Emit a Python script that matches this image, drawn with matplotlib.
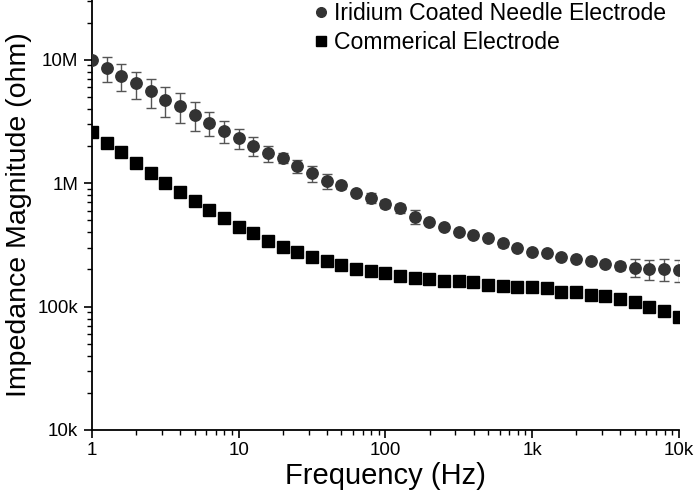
import numpy as np
import matplotlib
matplotlib.use("Agg")
import matplotlib.pyplot as plt
from matplotlib.ticker import FixedLocator, LogLocator, NullFormatter

plt.rcParams['font.family'] = ['Liberation Sans', 'DejaVu Sans']

# frequencies: 10 points per decade, 1 Hz .. 10 kHz
freq = [1, 1.259, 1.585, 1.995, 2.512, 3.162, 3.981, 5.012, 6.310, 7.943,
        10, 12.59, 15.85, 19.95, 25.12, 31.62, 39.81, 50.12, 63.10, 79.43,
        100, 125.9, 158.5, 199.5, 251.2, 316.2, 398.1, 501.2, 631.0, 794.3,
        1000, 1259, 1585, 1995, 2512, 3162, 3981, 5012, 6310, 7943, 10000]

# Iridium coated needle electrode (ohm)
iridium = [10.0e6, 8.57e6, 7.41e6, 6.43e6, 5.54e6, 4.74e6, 4.21e6, 3.58e6, 3.10e6, 2.64e6,
           2.32e6, 2.01e6, 1.74e6, 1.60e6, 1.38e6, 1.20e6, 1.04e6, 0.958e6, 0.840e6, 0.760e6,
           0.680e6, 0.627e6, 0.536e6, 0.489e6, 0.445e6, 0.405e6, 0.381e6, 0.362e6, 0.326e6, 0.297e6,
           0.276e6, 0.270e6, 0.251e6, 0.242e6, 0.235e6, 0.223e6, 0.213e6, 0.207e6, 0.202e6, 0.201e6,
           0.198e6]
iridium_err = [0.0, 2.0e6, 1.8e6, 1.6e6, 1.5e6, 1.3e6, 1.15e6, 0.95e6, 0.7e6, 0.53e6,
               0.44e6, 0.36e6, 0.26e6, 0.15e6, 0.17e6, 0.17e6, 0.14e6, 0.06e6, 0.02e6, 0.07e6,
               0.045e6, 0.055e6, 0.065e6, 0.01e6, 0.01e6, 0.01e6, 0.01e6, 0.01e6, 0.02e6, 0.01e6,
               0.01e6, 0.01e6, 0.01e6, 0.01e6, 0.01e6, 0.01e6, 0.015e6, 0.034e6, 0.037e6, 0.04e6,
               0.04e6]

# commercial electrode (ohm)
commercial = [2.61e6, 2.11e6, 1.79e6, 1.45e6, 1.21e6, 1.00e6, 0.845e6, 0.714e6, 0.604e6, 0.520e6,
              0.445e6, 0.392e6, 0.343e6, 0.306e6, 0.277e6, 0.254e6, 0.236e6, 0.217e6, 0.202e6, 0.194e6,
              0.186e6, 0.177e6, 0.170e6, 0.167e6, 0.162e6, 0.160e6, 0.157e6, 0.150e6, 0.147e6, 0.145e6,
              0.144e6, 0.141e6, 0.132e6, 0.131e6, 0.124e6, 0.121e6, 0.115e6, 0.109e6, 0.100e6, 0.0923e6,
              0.082e6]

xticks = [1, 10, 100, 1000, 10000]
xticklabels = ["1", "10", "100", "1k", "10k"]
yticks = [1e4, 1e5, 1e6, 1e7]
yticklabels = ["10k", "100k", "1M", "10M"]

fig = plt.figure(figsize=(6.94, 4.99), dpi=100)
ax = fig.add_axes([0.1326, 0.1383, 0.8454, 0.8617])

ax.errorbar(freq, iridium, yerr=iridium_err, fmt='none', ecolor='#555555',
            elinewidth=1, capsize=3.6, capthick=1, zorder=2)
ax.plot(freq, iridium, 'o', color='#333333', markersize=8.2,
        label='Iridium Coated Needle Electrode', zorder=3)
ax.plot(freq, commercial, 's', color='black', markersize=8.0,
        label='Commerical Electrode', zorder=3)

ax.set_xscale('log')
ax.set_yscale('log')
ax.set_xlim(1, 10000)
ax.set_ylim(1e4, 3.05e7)

ax.xaxis.set_major_locator(FixedLocator(xticks))
ax.set_xticklabels(xticklabels)
ax.yaxis.set_major_locator(FixedLocator(yticks))
ax.set_yticklabels(yticklabels)
ax.xaxis.set_minor_locator(LogLocator(base=10, subs=np.arange(2, 10)))
ax.yaxis.set_minor_locator(LogLocator(base=10, subs=np.arange(2, 10)))
ax.xaxis.set_minor_formatter(NullFormatter())
ax.yaxis.set_minor_formatter(NullFormatter())

for side in ['top', 'right']:
    ax.spines[side].set_visible(False)
for side in ['left', 'bottom']:
    ax.spines[side].set_linewidth(1.3)

ax.tick_params(which='major', direction='out', length=6, width=1.2, labelsize=13.5)
ax.tick_params(axis='x', which='major', pad=3)
ax.tick_params(axis='y', which='major', pad=4)
ax.tick_params(which='minor', direction='out', length=3.5, width=1.0)

ax.set_xlabel('Frequency (Hz)', fontsize=21, labelpad=2)
ax.set_ylabel('Impedance Magnitude (ohm)', fontsize=20.5, labelpad=4)

ax.legend(loc='upper left', frameon=False, fontsize=16.6, markerscale=0.85,
          handletextpad=0.15, handlelength=0.8, labelspacing=0.27,
          borderpad=0, borderaxespad=0,
          bbox_to_anchor=(312 / 694, 1 - 2 / 499), bbox_transform=fig.transFigure)

fig.savefig('out.png', dpi=100)
